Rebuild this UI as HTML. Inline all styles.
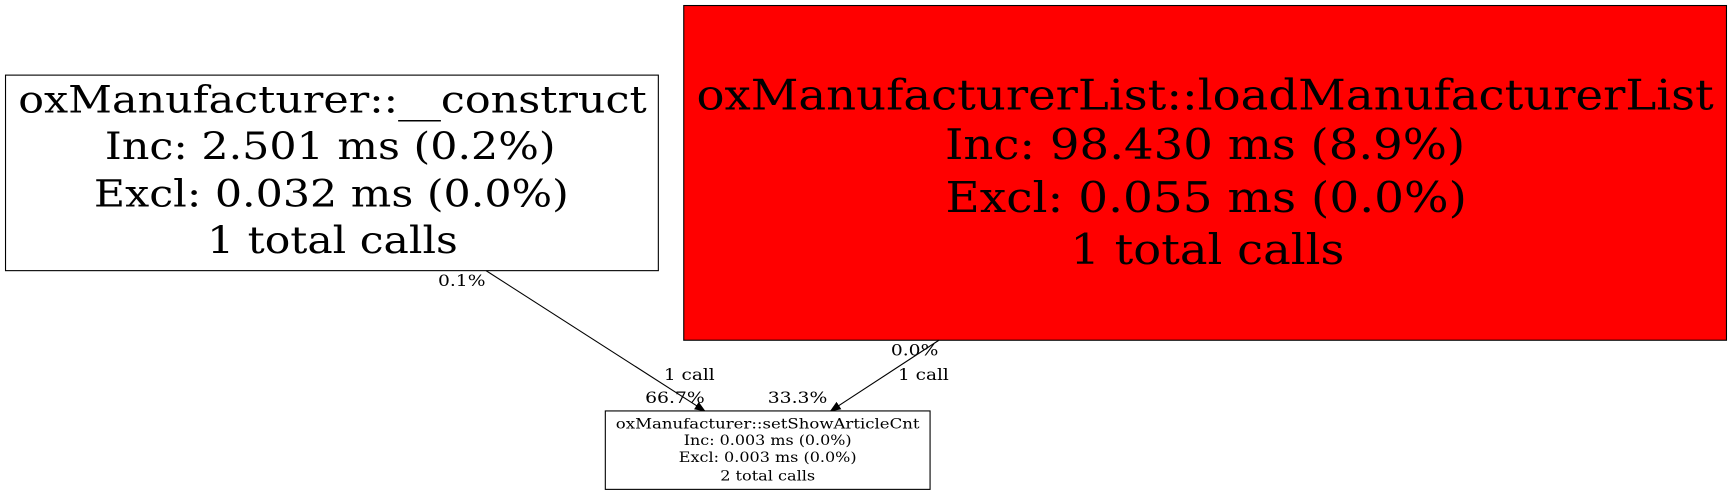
<!DOCTYPE html>
<html><head><style>html,body{margin:0;padding:0;background:#fff}svg{display:block}</style></head>
<body>
<svg width="1732" height="496" viewBox="0 0 1568 449" preserveAspectRatio="none" xmlns="http://www.w3.org/2000/svg" font-family="DejaVu Serif, Liberation Serif, serif">
<defs><marker id="a" markerWidth="10" markerHeight="8" refX="9" refY="4" orient="auto" markerUnits="userSpaceOnUse"><path d="M0,0 L10,4 L0,8 z" fill="#000"/></marker></defs>
<rect x="5" y="68" width="591" height="177" fill="#fff" stroke="#000"/>
<g font-size="34" text-anchor="middle">
<text x="301" y="102" textLength="569" lengthAdjust="spacingAndGlyphs">oxManufacturer::__construct</text>
<text x="299" y="144" textLength="408" lengthAdjust="spacingAndGlyphs">Inc: 2.501 ms (0.2%)</text>
<text x="300" y="187" textLength="430" lengthAdjust="spacingAndGlyphs">Excl: 0.032 ms (0.0%)</text>
<text x="301" y="229" textLength="227" lengthAdjust="spacingAndGlyphs">1 total calls</text>
</g>
<rect x="619" y="5" width="944" height="303" fill="#f00" stroke="#000"/>
<g font-size="38" text-anchor="middle">
<text x="1091" y="99" textLength="921" lengthAdjust="spacingAndGlyphs">oxManufacturerList::loadManufacturerList</text>
<text x="1091" y="144" textLength="471" lengthAdjust="spacingAndGlyphs">Inc: 98.430 ms (8.9%)</text>
<text x="1092" y="192" textLength="472" lengthAdjust="spacingAndGlyphs">Excl: 0.055 ms (0.0%)</text>
<text x="1093" y="239" textLength="248" lengthAdjust="spacingAndGlyphs">1 total calls</text>
</g>
<rect x="548" y="372" width="294" height="71" fill="#fff" stroke="#000"/>
<g font-size="13" text-anchor="middle">
<text x="695" y="388" textLength="275" lengthAdjust="spacingAndGlyphs">oxManufacturer::setShowArticleCnt</text>
<text x="695" y="403" textLength="152" lengthAdjust="spacingAndGlyphs">Inc: 0.003 ms (0.0%)</text>
<text x="695" y="418" textLength="161" lengthAdjust="spacingAndGlyphs">Excl: 0.003 ms (0.0%)</text>
<text x="695" y="435" textLength="86" lengthAdjust="spacingAndGlyphs">2 total calls</text>
</g>
<line x1="440" y1="245" x2="638" y2="372" stroke="#000" marker-end="url(#a)"/>
<line x1="850" y1="308" x2="752" y2="372" stroke="#000" marker-end="url(#a)"/>
<g font-size="14" text-anchor="middle">
<text x="418" y="259" textLength="43" lengthAdjust="spacingAndGlyphs">0.1%</text>
<text x="624" y="344" textLength="46" lengthAdjust="spacingAndGlyphs">1 call</text>
<text x="611" y="365" textLength="54" lengthAdjust="spacingAndGlyphs">66.7%</text>
<text x="828" y="322" textLength="43" lengthAdjust="spacingAndGlyphs">0.0%</text>
<text x="836" y="344" textLength="46" lengthAdjust="spacingAndGlyphs">1 call</text>
<text x="722" y="365" textLength="54" lengthAdjust="spacingAndGlyphs">33.3%</text>
</g>
</svg>
</body></html>
